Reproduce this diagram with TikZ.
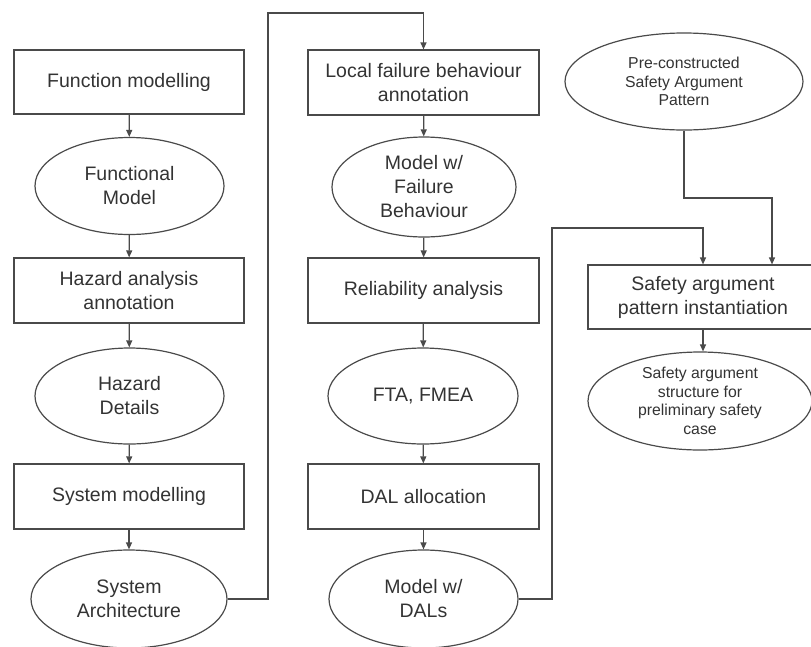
\documentclass[tikz,border=0pt]{standalone}
\usepackage{fontspec}
\setmainfont{Liberation Sans}
\usetikzlibrary{shapes.geometric,arrows.meta}
\definecolor{ink}{HTML}{333333}
\definecolor{edge}{HTML}{4A4A4A}
\begin{document}
\begin{tikzpicture}[x=1pt,y=-1pt,
  every node/.style={text=ink, align=center, inner sep=0pt},
  stepbox/.style={draw=edge, line width=1.2pt, rectangle, minimum width=230pt, minimum height=64pt,
    font=\fontsize{19.5}{24}\selectfont},
  dataoval/.style={draw=edge, line width=1.2pt, ellipse, font=\fontsize{19.5}{24}\selectfont},
  smalloval/.style={draw=edge, line width=1.2pt, ellipse, font=\fontsize{15.8}{18.5}\selectfont},
  flow/.style={draw=edge, line width=1.2pt, -{Triangle[length=7pt,width=6pt]}},
  plain/.style={draw=edge, line width=1.2pt}]
\useasboundingbox (0,0) rectangle (811,646);
\clip (0,0) rectangle (811,646);

% left column
\node[stepbox] (fm) at (129,82) {Function modelling};
\node[dataoval, minimum width=189pt, minimum height=97pt] (fmod) at (129.5,186) {Functional\\Model};
\node[stepbox, minimum height=65pt] (haz) at (129,290.5) {Hazard analysis\\annotation};
\node[dataoval, minimum width=189pt, minimum height=96pt] (hd) at (129.5,396) {Hazard\\Details};
\node[stepbox, minimum height=65pt] (sm) at (129,496.5) {System modelling};
\node[dataoval, minimum width=196pt, minimum height=98pt] (sa) at (129,599) {System\\Architecture};

% middle column
\node[stepbox, minimum width=231pt, minimum height=65pt] (lf) at (423.5,82.5) {Local failure behaviour\\annotation};
\node[dataoval, minimum width=184pt, minimum height=100pt] (mf) at (424,187) {Model w/\\Failure\\Behaviour};
\node[stepbox, minimum width=231pt, minimum height=65pt] (ra) at (423.5,290.5) {Reliability analysis};
\node[dataoval, minimum width=190pt, minimum height=96pt] (fta) at (423,396) {FTA, FMEA};
\node[stepbox, minimum width=231pt, minimum height=65pt] (dal) at (423.5,496.5) {DAL allocation};
\node[dataoval, minimum width=189pt, minimum height=98pt] (md) at (423.5,599) {Model w/\\DALs};

% right column
\node[smalloval, minimum width=238pt, minimum height=97pt] (pc) at (684,81.5) {Pre-constructed\\Safety Argument\\Pattern};
\node[stepbox] (sp) at (703,297) {Safety argument\\pattern instantiation};
\node[smalloval, minimum width=224pt, minimum height=98pt] (ss) at (700,401) {Safety argument\\structure for\\preliminary safety\\case};

% vertical flow
\draw[flow] (fm) -- (fmod);
\draw[flow] (fmod) -- (haz);
\draw[flow] (haz) -- (hd);
\draw[flow] (hd) -- (sm);
\draw[flow] (sm) -- (sa);
\draw[flow] (lf) -- (mf);
\draw[flow] (mf) -- (ra);
\draw[flow] (ra) -- (fta);
\draw[flow] (fta) -- (dal);
\draw[flow] (dal) -- (md);
\draw[flow] (sp.south) -- (ss.north -| sp.south);

% cross-column links
\coordinate (c1) at (268,599);
\coordinate (c2) at (268,13);
\draw[flow] (sa.east) -- (c1) -- (c2) -- (c2 -| lf.north) -- (lf.north);
\coordinate (d1) at (552,599);
\coordinate (d2) at (552,228);
\draw[flow] (md.east) -- (d1) -- (d2) -- (d2 -| sp.north) -- (sp.north);
\coordinate (p1) at (684,198);
\coordinate (p2) at (772,198);
\draw[flow] (pc.south) -- (p1) -- (p2) -- (p2 |- sp.north);
\end{tikzpicture}
\end{document}
